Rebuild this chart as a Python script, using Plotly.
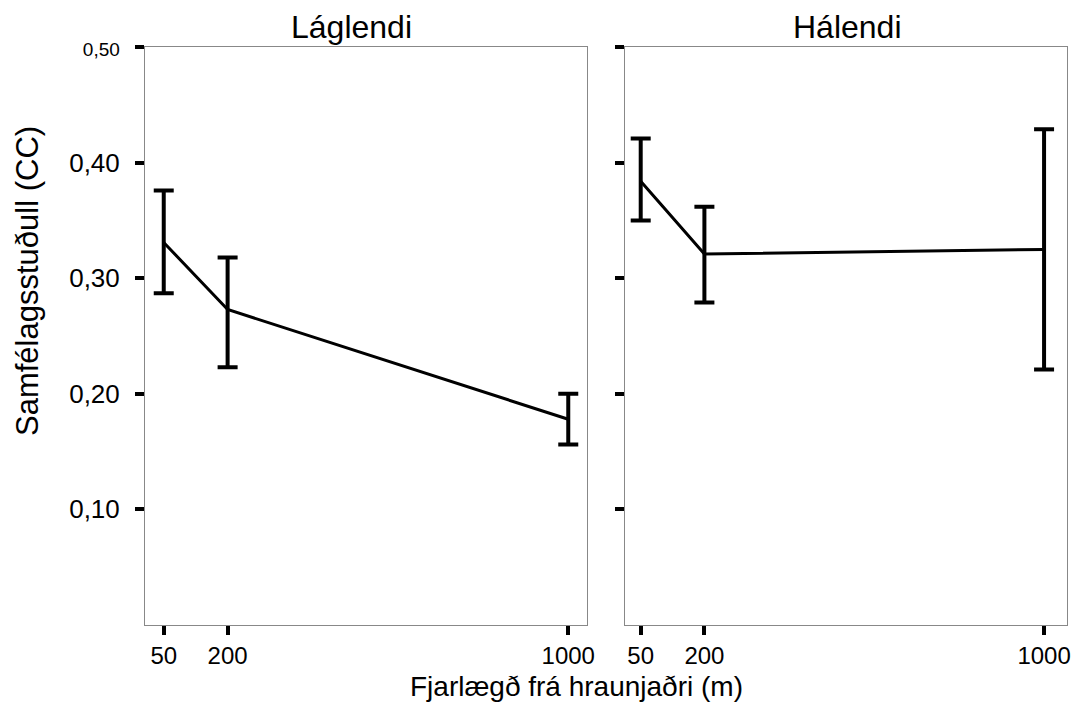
import plotly.graph_objects as go

# Distance from lava edge (m)
distances = [50, 200, 1000]

# Lowland (Láglendi): mean community coefficient with interval bounds
low_mean = [0.331, 0.273, 0.178]
low_upper = [0.376, 0.318, 0.200]
low_lower = [0.287, 0.223, 0.156]

# Highland (Hálendi)
high_mean = [0.384, 0.321, 0.325]
high_upper = [0.421, 0.362, 0.429]
high_lower = [0.350, 0.279, 0.221]

panel_titles = ["Láglendi", "Hálendi"]
y_tickvals = [0.10, 0.20, 0.30, 0.40, 0.50]
y_ticktext = ["0,10", "0,20", "0,30", "0,40", "<span style='font-size:19px'>0,50</span>"]
x_tickvals = [50, 200, 1000]
x_ticktext = ["50", "200", "1000"]

FONT = "Liberation Sans, Arial, sans-serif"
W, H = 1079, 704


def px_x(p):
    return p / W


def px_y(p):
    return 1 - p / H


fig = go.Figure()

for i, (m, up, lo) in enumerate([(low_mean, low_upper, low_lower),
                                 (high_mean, high_upper, high_lower)]):
    fig.add_trace(go.Scatter(
        x=distances, y=m, mode="lines",
        line=dict(color="black", width=3),
        error_y=dict(type="data", symmetric=False,
                     array=[u - v for u, v in zip(up, m)],
                     arrayminus=[v - l for v, l in zip(m, lo)],
                     color="black", thickness=4, width=10),
        xaxis="x" if i == 0 else "x2",
        yaxis="y" if i == 0 else "y2",
        showlegend=False, hoverinfo="skip",
    ))

axis_common = dict(
    showline=True, linecolor="#888888", linewidth=1, mirror=True,
    showgrid=False, zeroline=False, automargin=False,
    ticks="outside", tickcolor="black", tickwidth=3.5, ticklen=9,
)

y_dom = [px_y(624.8), px_y(47.3)]
x_tickfont = dict(family=FONT, size=24, color="black")
y_tickfont = dict(family=FONT, size=26, color="black")

fig.update_layout(
    width=W, height=H,
    margin=dict(l=0, r=0, t=0, b=0, pad=0, autoexpand=False),
    paper_bgcolor="white", plot_bgcolor="white",
    font=dict(family=FONT, color="black"),
    showlegend=False,
    xaxis=dict(domain=[px_x(145), px_x(587)], range=[6, 1044],
               tickvals=x_tickvals, ticktext=x_ticktext, anchor="y",
               tickfont=x_tickfont, **axis_common),
    xaxis2=dict(domain=[px_x(625), px_x(1067)], range=[13, 1054],
                tickvals=x_tickvals, ticktext=x_ticktext, anchor="y2",
                tickfont=x_tickfont, **axis_common),
    yaxis=dict(domain=y_dom, range=[0, 0.5], tickvals=y_tickvals,
               ticktext=y_ticktext, anchor="x", ticklabelstandoff=10,
               tickfont=y_tickfont, **axis_common),
    yaxis2=dict(domain=y_dom, range=[0, 0.5], tickvals=y_tickvals,
                showticklabels=False, anchor="x2", **axis_common),
)

annotations = [
    dict(text=panel_titles[0], x=px_x(351), y=px_y(27), yanchor="middle", size=32),
    dict(text=panel_titles[1], x=px_x(847), y=px_y(27), yanchor="middle", size=32),
    dict(text="Fjarlægð frá hraunjaðri (m)", x=px_x(576), y=0.0,
         yanchor="bottom", size=28),
    dict(text="Samfélagsstuðull (CC)", x=px_x(27), y=px_y(281),
         yanchor="middle", textangle=-90, size=31),
]
for a in annotations:
    size = a.pop("size")
    fig.add_annotation(xref="paper", yref="paper", showarrow=False,
                       xanchor="center",
                       font=dict(family=FONT, size=size, color="black"), **a)

fig.write_html("out.html")
